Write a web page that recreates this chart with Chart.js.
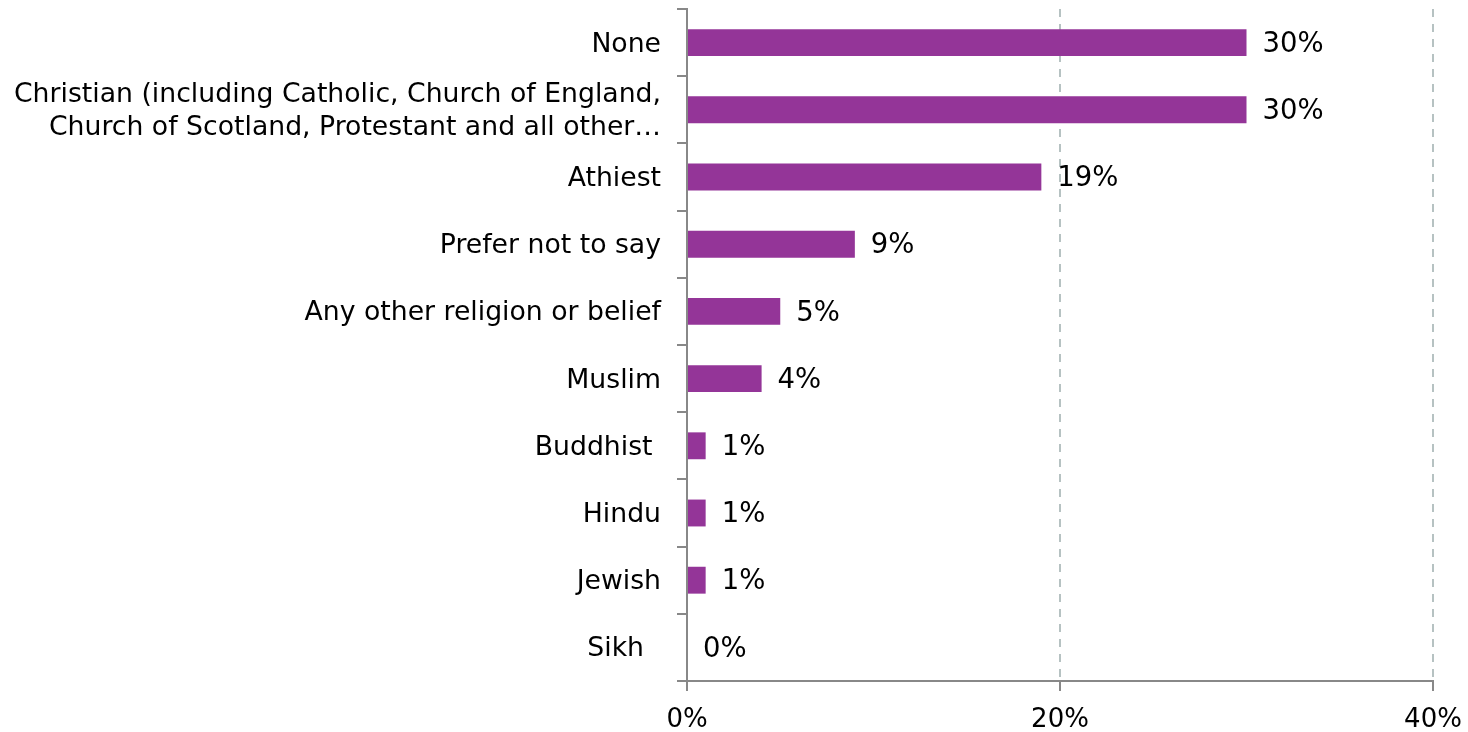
<!DOCTYPE html>
<html>
<head>
<meta charset="utf-8">
<script src="https://cdn.jsdelivr.net/npm/chart.js@4/dist/chart.umd.min.js"></script>
<style>
html,body{margin:0;padding:0;background:#fff;}
#wrap{width:1468px;height:732px;position:relative;}
</style>
</head>
<body>
<div id="wrap"><canvas id="c" width="1468" height="732"></canvas></div>
<script>
const categories = [
  "None",
  ["Christian (including Catholic, Church of England,", "Church of Scotland, Protestant and all other…"],
  "Athiest",
  "Prefer not to say",
  "Any other religion or belief",
  "Muslim",
  "Buddhist ",
  "Hindu",
  "Jewish",
  "Sikh  "
];
const values = [30, 30, 19, 9, 5, 4, 1, 1, 1, 0];
const xTicks = [0, 20, 40];

const valueLabels = {
  id: 'valueLabels',
  afterDatasetsDraw(chart) {
    const ctx = chart.ctx;
    const meta = chart.getDatasetMeta(0);
    ctx.save();
    ctx.font = '27.5px "DejaVu Sans"';
    ctx.fillStyle = '#000';
    ctx.textAlign = 'left';
    ctx.textBaseline = 'middle';
    meta.data.forEach((bar, i) => {
      ctx.fillText(values[i] + '%', bar.x + 16, bar.y + 2);
    });
    ctx.restore();
  }
};

new Chart(document.getElementById('c'), {
  type: 'bar',
  data: {
    labels: categories,
    datasets: [{
      data: values,
      backgroundColor: '#943598',
      borderWidth: 0,
      categoryPercentage: 1,
      barPercentage: 0.4
    }]
  },
  options: {
    indexAxis: 'y',
    responsive: false,
    animation: false,
    devicePixelRatio: 1,
    layout: { padding: { top: 9, right: 35, left: 0, bottom: 0 } },
    plugins: { legend: { display: false }, tooltip: { enabled: false } },
    scales: {
      x: {
        min: 0, max: 40,
        afterBuildTicks(s) { s.ticks = xTicks.map(v => ({ value: v })); },
        afterFit(s) { s.height = 51; s.paddingLeft = 0; s.paddingRight = 0; },
        border: { display: true, color: '#888888', width: 2, dash: [8, 7] },
        grid: {
          color: (c) => c.tick && c.tick.value === 0 ? 'rgba(0,0,0,0)' : '#b6c2c2',
          lineWidth: 2,
          drawTicks: true,
          tickLength: 10,
          tickColor: '#888888',
          tickWidth: 2,
          tickBorderDash: []
        },
        ticks: {
          padding: 14,
          color: '#000',
          font: { family: '"DejaVu Sans"', size: 26 },
          maxRotation: 0,
          callback: (v) => v + '%'
        }
      },
      y: {
        afterFit(s) { s.width = 687; s.paddingTop = 0; s.paddingBottom = 0; },
        border: { display: true, color: '#888888', width: 2 },
        grid: {
          drawOnChartArea: false,
          drawTicks: true,
          tickLength: 10,
          tickColor: '#888888',
          lineWidth: 2
        },
        ticks: {
          padding: 16,
          labelOffset: 2,
          color: '#000',
          autoSkip: false,
          font: { family: '"DejaVu Sans"', size: 26.7, lineHeight: 1.25 }
        }
      }
    }
  },
  plugins: [valueLabels]
});
</script>
</body>
</html>
